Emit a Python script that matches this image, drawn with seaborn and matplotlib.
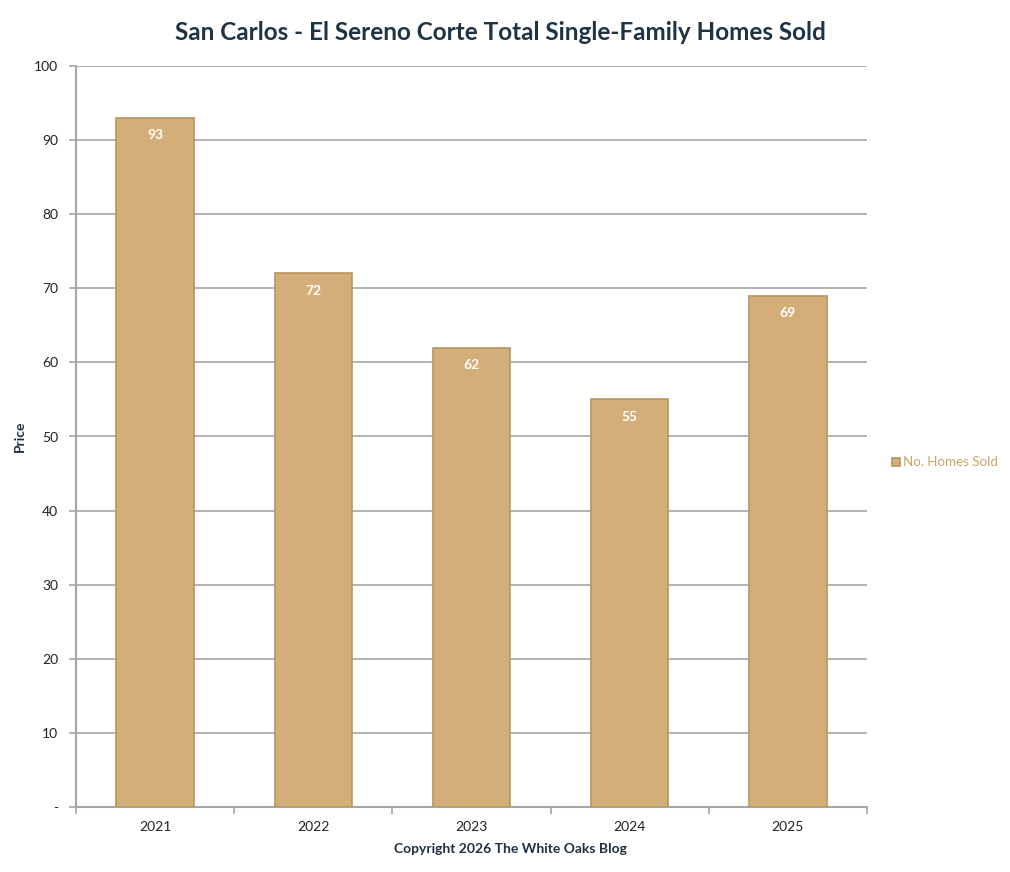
import matplotlib
matplotlib.use("Agg")
import matplotlib.pyplot as plt
import seaborn as sns
import pandas as pd
import numpy as np

years = ["2021", "2022", "2023", "2024", "2025"]
homes_sold = [93, 72, 62, 55, 69]
y_ticks = [0, 10, 20, 30, 40, 50, 60, 70, 80, 90, 100]
y_tick_labels = ["-", "10", "20", "30", "40", "50", "60", "70", "80", "90", "100"]

sns.set_theme(style="white")
plt.rcParams["font.family"] = ["Lato", "DejaVu Sans"]

df = pd.DataFrame({"Year": years, "No. Homes Sold": homes_sold})

fig = plt.figure(figsize=(10.1, 8.72), dpi=100)
ax = fig.add_axes([76/1010, 1-807/872, (867-76)/1010, (807-66)/872])

bar_color = "#D4AE78"
sns.barplot(data=df, x="Year", y="No. Homes Sold", color=bar_color, width=0.49,
            ax=ax, saturation=1, edgecolor="#B8955E", linewidth=1.2, zorder=3,
            label="No. Homes Sold")

ax.set_ylim(0, 100)
ax.set_xlim(-0.5, 4.5)
ax.set_yticks(y_ticks)
ax.set_yticklabels(y_tick_labels, fontsize=10, color="#222222")
ax.yaxis.grid(True, color="#A6A6A6", linewidth=1.2, zorder=0)
ax.xaxis.grid(False)
for s in ["top", "right"]:
    ax.spines[s].set_visible(False)
ax.spines["left"].set_color("#A6A6A6")
ax.spines["left"].set_linewidth(1.5)
ax.spines["bottom"].set_color("#A6A6A6")
ax.spines["bottom"].set_linewidth(1.5)
ax.tick_params(axis="y", which="major", length=5, color="#A6A6A6", width=1.2, left=True, pad=8)
ax.tick_params(axis="x", which="major", length=0, labelsize=10, labelcolor="#222222", pad=10)
ax.set_xticks(np.arange(-0.5, 5, 1.0), minor=True)
ax.tick_params(axis="x", which="minor", length=5, color="#A6A6A6", width=1.2, bottom=True)

for i, v in enumerate(homes_sold):
    ax.text(i, v - 1.5, str(v), ha="center", va="top", color="white",
            fontsize=10, fontweight="bold", zorder=5)

ax.set_ylabel("")
ax.set_xlabel("")
fig.text(20/1010, 1-436/872, "Price", rotation=90, ha="center", va="center",
         fontsize=10, fontweight="bold", color="#1F2F3F")
fig.text(510/1010, 1-849/872, "Copyright 2026 The White Oaks Blog", ha="center",
         va="center", fontsize=10, fontweight="bold", color="#1F2F3F")

fig.text(500/1010, 1-33/872, "San Carlos - El Sereno Corte Total Single-Family Homes Sold",
         ha="center", va="center", fontsize=17.5, fontweight="bold", color="#1E3346")

leg = ax.legend(loc="center left", bbox_to_anchor=(1.025, 0.465), frameon=False,
                fontsize=9.6, handlelength=0.6, handleheight=0.6, handletextpad=0.25,
                borderpad=0.2, borderaxespad=0.2)
for t in leg.get_texts():
    t.set_color("#C9A46A")

fig.savefig("out.png", dpi=100)
